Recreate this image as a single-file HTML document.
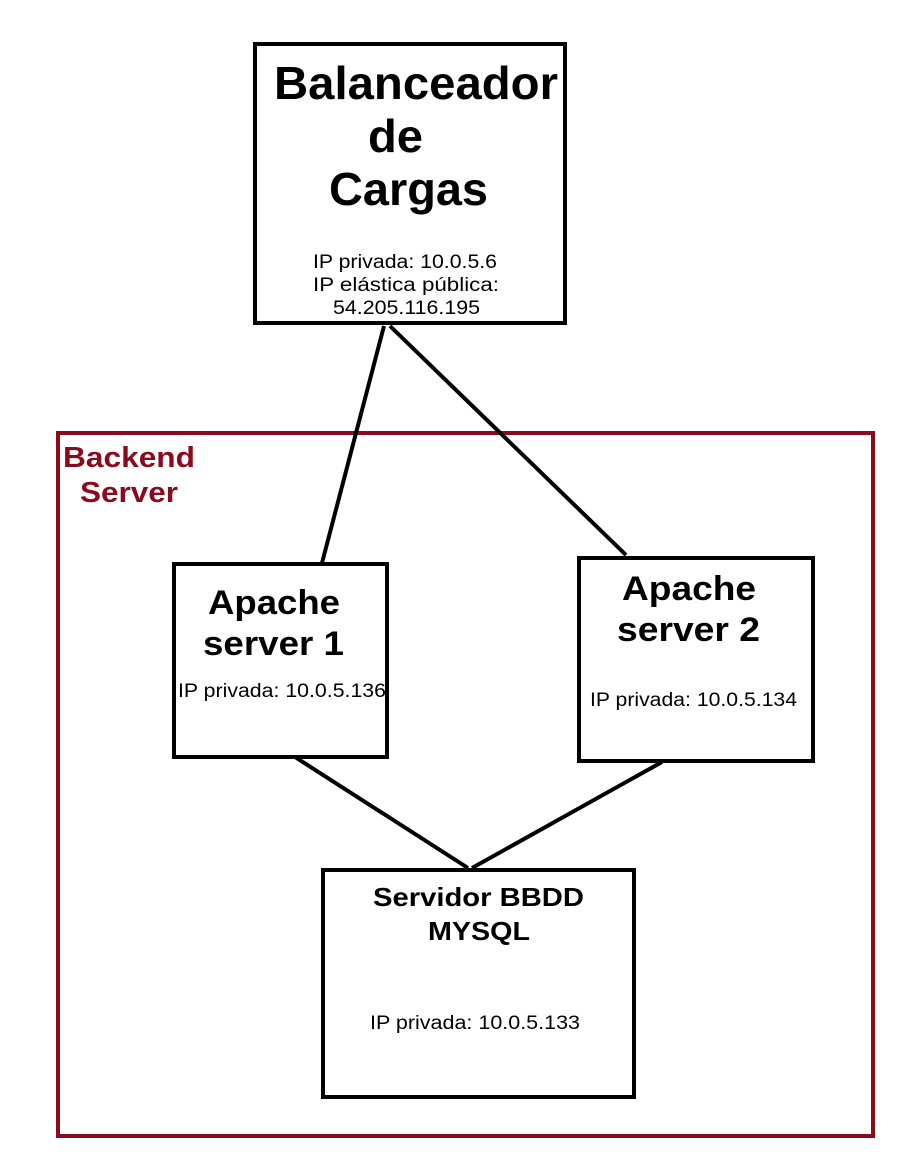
<!DOCTYPE html>
<html><head><meta charset="utf-8"><style>
html,body{margin:0;padding:0;background:#fff;}
svg{display:block;font-family:"Liberation Sans",Arial,sans-serif;}
</style></head><body>
<svg width="905" height="1162" viewBox="0 0 905 1162" xmlns="http://www.w3.org/2000/svg">
<rect x="0" y="0" width="905" height="1162" fill="#fff"/>
<rect x="58" y="433" width="815" height="703" fill="none" stroke="#8a0a1e" stroke-width="4"/>
<text x="63" y="467" font-size="29" font-weight="bold" fill="#8a0a1e" textLength="132" lengthAdjust="spacingAndGlyphs">Backend</text>
<text x="80" y="502" font-size="29" font-weight="bold" fill="#8a0a1e" textLength="98" lengthAdjust="spacingAndGlyphs">Server</text>
<g stroke="#000" stroke-width="4" fill="none">
<line x1="384" y1="326" x2="322" y2="563"/>
<line x1="390" y1="326" x2="626" y2="555"/>
<line x1="295" y1="757" x2="468" y2="868"/>
<line x1="662" y1="762" x2="472" y2="868"/>
</g>
<g stroke="#000" stroke-width="4" fill="#fff">
<rect x="255" y="44" width="310" height="279"/>
<rect x="174" y="564" width="213" height="193"/>
<rect x="579" y="558" width="234" height="203"/>
<rect x="323" y="870" width="311" height="227"/>
</g>
<g font-weight="bold" fill="#000" lengthAdjust="spacingAndGlyphs">
<text x="274" y="99" font-size="46" textLength="284" lengthAdjust="spacingAndGlyphs">Balanceador</text>
<text x="368" y="152" font-size="46" textLength="55" lengthAdjust="spacingAndGlyphs">de</text>
<text x="329" y="205" font-size="46" textLength="159" lengthAdjust="spacingAndGlyphs">Cargas</text>
<text x="208" y="614" font-size="34" textLength="132" lengthAdjust="spacingAndGlyphs">Apache</text>
<text x="203" y="655" font-size="34" textLength="141" lengthAdjust="spacingAndGlyphs">server 1</text>
<text x="622" y="600" font-size="34" textLength="134" lengthAdjust="spacingAndGlyphs">Apache</text>
<text x="617" y="641" font-size="34" textLength="143" lengthAdjust="spacingAndGlyphs">server 2</text>
<text x="373" y="906" font-size="26" textLength="211" lengthAdjust="spacingAndGlyphs">Servidor BBDD</text>
<text x="428" y="940" font-size="26" textLength="102" lengthAdjust="spacingAndGlyphs">MYSQL</text>
</g>
<g fill="#000" font-size="19">
<text x="313" y="268" textLength="184" lengthAdjust="spacingAndGlyphs">IP privada: 10.0.5.6</text>
<text x="313" y="291" textLength="186" lengthAdjust="spacingAndGlyphs">IP elástica pública:</text>
<text x="333" y="314" textLength="147" lengthAdjust="spacingAndGlyphs">54.205.116.195</text>
<text x="178" y="697" textLength="208" lengthAdjust="spacingAndGlyphs">IP privada: 10.0.5.136</text>
<text x="590" y="706" textLength="207" lengthAdjust="spacingAndGlyphs">IP privada: 10.0.5.134</text>
<text x="370" y="1029" textLength="210" lengthAdjust="spacingAndGlyphs">IP privada: 10.0.5.133</text>
</g>
</svg>
</body></html>
